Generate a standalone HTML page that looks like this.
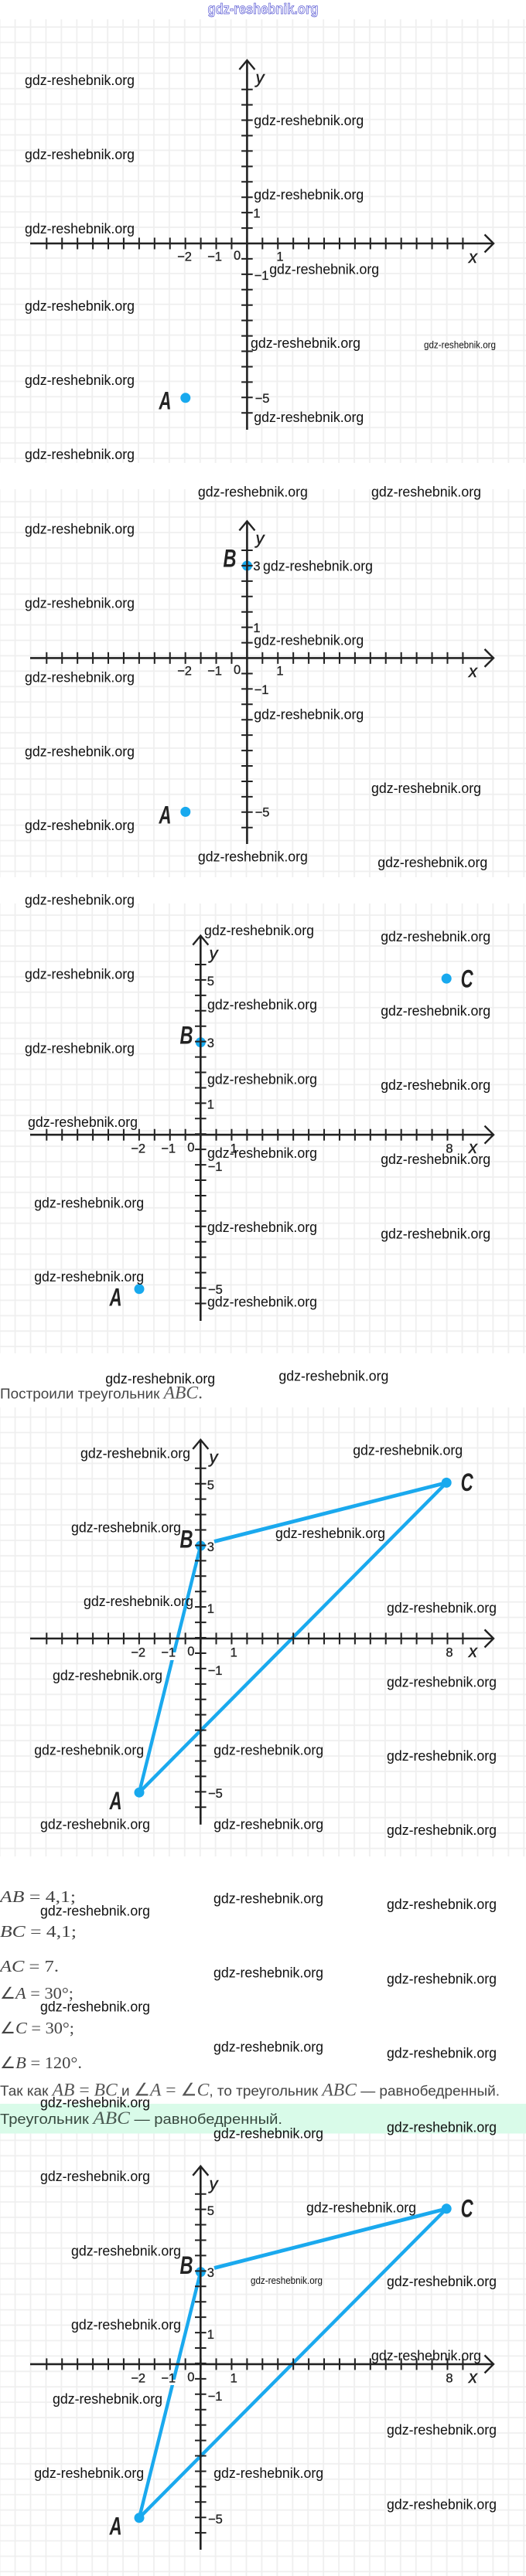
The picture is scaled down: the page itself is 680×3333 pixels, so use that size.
<!DOCTYPE html>
<html lang="ru"><head><meta charset="utf-8"><title>gdz-reshebnik.org</title>
<style>
html,body{margin:0;padding:0;background:#fff}
svg{display:block}
.w{font:18.5px "Liberation Sans",sans-serif;fill:#111}
.n{font:16.5px "Liberation Sans",sans-serif;fill:#222;stroke:#222;stroke-width:.3;text-anchor:middle}
.v{font:italic 22px "Liberation Sans",sans-serif;fill:#222;stroke:#222;stroke-width:.4;text-anchor:middle}
.L{font:italic bold 32px "Liberation Sans",sans-serif;fill:#222}
.m{font:21px "Liberation Serif",serif;fill:#444}
.t{font:18.5px "Liberation Sans",sans-serif;fill:#444}
.tm{font:23px "Liberation Serif",serif;fill:#555}
.i{font-style:italic!important}
</style></head>
<body>
<svg xmlns="http://www.w3.org/2000/svg" width="680" height="3333" viewBox="0 0 680 3333">
<defs>
<pattern id="g1" patternUnits="userSpaceOnUse" x="9.6" y="5.1" width="19.93" height="19.93"><path d="M9.965 0V19.93M0 9.965H19.93" stroke="#efefef" stroke-width="1.8" fill="none"/></pattern>
<pattern id="g2" patternUnits="userSpaceOnUse" x="9.6" y="1.4" width="19.93" height="19.93"><path d="M9.965 0V19.93M0 9.965H19.93" stroke="#efefef" stroke-width="1.8" fill="none"/></pattern>
<pattern id="g3" patternUnits="userSpaceOnUse" x="9.6" y="18.2" width="19.93" height="19.93"><path d="M9.965 0V19.93M0 9.965H19.93" stroke="#efefef" stroke-width="1.8" fill="none"/></pattern>
<pattern id="g4" patternUnits="userSpaceOnUse" x="9.6" y="10" width="19.93" height="19.93"><path d="M9.965 0V19.93M0 9.965H19.93" stroke="#efefef" stroke-width="1.8" fill="none"/></pattern>
<pattern id="g5" patternUnits="userSpaceOnUse" x="9.6" y="9" width="19.93" height="19.93"><path d="M9.965 0V19.93M0 9.965H19.93" stroke="#efefef" stroke-width="1.8" fill="none"/></pattern>
<g id="xa" fill="none" stroke="#222">
<path d="M39 0H638" stroke-width="2.6"/>
<path d="M59.3 0H600" stroke-width="15" stroke-dasharray="2 17.93"/>
<path d="M626.5-11.5L638 0L626.5 11.5" stroke-width="2.4"/>
</g>
</defs>

<!-- title -->
<text x="340" y="18" text-anchor="middle" textLength="143" lengthAdjust="spacingAndGlyphs" style="font:bold 19px 'Liberation Sans',sans-serif;fill:#f0f0fd;stroke:#3535c8;stroke-width:.6">gdz-reshebnik.org</text>

<!-- backgrounds -->
<rect x="0" y="25" width="680" height="574" fill="url(#g1)"/>
<rect x="0" y="633" width="680" height="502" fill="url(#g2)"/>
<rect x="0" y="1169" width="680" height="582" fill="url(#g3)"/>
<rect x="0" y="1821" width="680" height="581" fill="url(#g4)"/>
<rect x="0" y="2722" width="680" height="38.5" fill="#d9fbe9"/>
<rect x="0" y="2760.5" width="680" height="572.5" fill="url(#g5)"/>

<!-- GRAPH 1 -->
<circle cx="239.8" cy="514.8" r="6.5" fill="#18a9ee"/>
<use href="#xa" y="315"/>
<g fill="none" stroke="#222">
<path d="M319.4 78V556" stroke-width="2.6"/>
<path d="M319.4 114.7V535.5" stroke-width="14.6" stroke-dasharray="2 17.93"/>
<path d="M309.4 90L319.4 78L329.4 90" stroke-width="2.4"/>
</g>
<text class="n" x="238.5" y="337.5">−2</text><text class="n" x="277.5" y="337.5">−1</text><text class="n" x="306.6" y="336">0</text><text class="n" x="362" y="337.5">1</text>
<text class="n" x="332" y="281.5">1</text><text class="n" x="338" y="362">−1</text><text class="n" x="339" y="521">−5</text>
<text class="v" x="611.4" y="340">x</text><text class="v" x="336" y="108">y</text>
<text class="L" x="205.5" y="529.5" textLength="16" lengthAdjust="spacingAndGlyphs">A</text>

<!-- GRAPH 2 -->
<circle cx="239.8" cy="1050.4" r="6.5" fill="#18a9ee"/>
<circle cx="319.4" cy="732" r="6.5" fill="#18a9ee"/>
<use href="#xa" y="851.4"/>
<g fill="none" stroke="#222">
<path d="M319.4 674.4V1092" stroke-width="2.6"/>
<path d="M319.4 711V1071.9" stroke-width="14.6" stroke-dasharray="2 17.93"/>
<path d="M309.4 686.4L319.4 674.4L329.4 686.4" stroke-width="2.4"/>
</g>
<text class="n" x="238.5" y="873.5">−2</text><text class="n" x="277.5" y="873.5">−1</text><text class="n" x="306.6" y="872">0</text><text class="n" x="362" y="873.5">1</text>
<text class="n" x="332" y="738">3</text><text class="n" x="332" y="818">1</text><text class="n" x="338" y="898">−1</text><text class="n" x="339" y="1056.5">−5</text>
<text class="v" x="611.4" y="876">x</text><text class="v" x="336" y="704">y</text>
<text class="L" x="205.5" y="1065.5" textLength="16" lengthAdjust="spacingAndGlyphs">A</text>
<text class="L" x="288.5" y="733.5" textLength="17" lengthAdjust="spacingAndGlyphs">B</text>

<!-- GRAPH 3 -->
<circle cx="180" cy="1667.8" r="6.5" fill="#18a9ee"/>
<circle cx="259.3" cy="1348.6" r="6.5" fill="#18a9ee"/>
<circle cx="577.2" cy="1266.1" r="6.5" fill="#18a9ee"/>
<use href="#xa" y="1468.2"/>
<g fill="none" stroke="#222">
<path d="M259.3 1210.6V1709" stroke-width="2.6"/>
<path d="M259.3 1247V1688.6" stroke-width="14.6" stroke-dasharray="2 17.93"/>
<path d="M249.3 1222.6L259.3 1210.6L269.3 1222.6" stroke-width="2.4"/>
</g>
<text class="n" x="178.7" y="1491.5">−2</text><text class="n" x="217.7" y="1491.5">−1</text><text class="n" x="246.8" y="1490">0</text><text class="n" x="302.2" y="1491.5">1</text><text class="n" x="581" y="1491.5">8</text>
<text class="n" x="272.3" y="1275">5</text><text class="n" x="272.3" y="1355">3</text><text class="n" x="272.3" y="1434.5">1</text><text class="n" x="278" y="1515">−1</text><text class="n" x="278.4" y="1674">−5</text>
<text class="v" x="611.4" y="1492">x</text><text class="v" x="276" y="1241">y</text>
<text class="L" x="141.6" y="1689.5" textLength="16" lengthAdjust="spacingAndGlyphs">A</text>
<text class="L" x="232.5" y="1350.5" textLength="17" lengthAdjust="spacingAndGlyphs">B</text>
<text class="L" x="595.6" y="1277.5" textLength="16" lengthAdjust="spacingAndGlyphs">C</text>

<!-- GRAPH 4 -->
<g fill="none" stroke="#1aa9ee" stroke-width="4.4">
<path d="M180 2319.2L259.3 2000"/>
<path d="M180 2319.2L577.2 1918.4"/>
<path d="M277 1994.5L577.2 1918.4" stroke-width="4.8"/>
</g>
<rect x="216" y="2138" width="13" height="10" fill="#fff"/>
<circle cx="180" cy="2319.2" r="6.5" fill="#18a9ee"/>
<circle cx="259.3" cy="2000" r="6.5" fill="#18a9ee"/>
<circle cx="577.2" cy="1918.4" r="6.5" fill="#18a9ee"/>
<use href="#xa" y="2120"/>
<g fill="none" stroke="#222">
<path d="M259.3 1862.9V2360.8" stroke-width="2.6"/>
<path d="M259.3 1898.8V2340.4" stroke-width="14.6" stroke-dasharray="2 17.93"/>
<path d="M249.3 1874.9L259.3 1862.9L269.3 1874.9" stroke-width="2.4"/>
</g>
<text class="n" x="178.7" y="2143.5">−2</text><text class="n" x="217.7" y="2143.5">−1</text><text class="n" x="246.8" y="2142">0</text><text class="n" x="302.2" y="2143.5">1</text><text class="n" x="581" y="2143.5">8</text>
<text class="n" x="272.3" y="1927">5</text><text class="n" x="272.3" y="2007">3</text><text class="n" x="272.3" y="2087">1</text><text class="n" x="278" y="2167">−1</text><text class="n" x="278.4" y="2326">−5</text>
<text class="v" x="611.4" y="2144">x</text><text class="v" x="276" y="1893">y</text>
<text class="L" x="141.6" y="2341" textLength="16" lengthAdjust="spacingAndGlyphs">A</text>
<text class="L" x="232.5" y="2002.5" textLength="17" lengthAdjust="spacingAndGlyphs">B</text>
<text class="L" x="595.6" y="1929" textLength="16" lengthAdjust="spacingAndGlyphs">C</text>

<!-- GRAPH 5 -->
<g fill="none" stroke="#1aa9ee" stroke-width="4.4">
<path d="M180 3257.8L259.3 2939.6"/>
<path d="M180 3257.8L577.2 2857.8"/>
<path d="M277 2934.5L577.2 2857.8" stroke-width="4.8"/>
</g>
<rect x="216" y="3079" width="13" height="7" fill="#fff"/>
<circle cx="180" cy="3257.8" r="6.5" fill="#18a9ee"/>
<circle cx="259.3" cy="2939.6" r="6.5" fill="#18a9ee"/>
<circle cx="577.2" cy="2857.8" r="6.5" fill="#18a9ee"/>
<use href="#xa" y="3058.9"/>
<g fill="none" stroke="#222">
<path d="M259.3 2802.8V3299" stroke-width="2.6"/>
<path d="M259.3 2837.7V3279.3" stroke-width="14.6" stroke-dasharray="2 17.93"/>
<path d="M249.3 2814.8L259.3 2802.8L269.3 2814.8" stroke-width="2.4"/>
</g>
<text class="n" x="178.7" y="3082.5">−2</text><text class="n" x="217.7" y="3082.5">−1</text><text class="n" x="246.8" y="3081">0</text><text class="n" x="302.2" y="3082.5">1</text><text class="n" x="581" y="3082.5">8</text>
<text class="n" x="272.3" y="2866">5</text><text class="n" x="272.3" y="2946">3</text><text class="n" x="272.3" y="3026">1</text><text class="n" x="278" y="3106">−1</text><text class="n" x="278.4" y="3265">−5</text>
<text class="v" x="611.4" y="3083">x</text><text class="v" x="276" y="2833">y</text>
<text class="L" x="141.6" y="3279.5" textLength="16" lengthAdjust="spacingAndGlyphs">A</text>
<text class="L" x="232.5" y="2942" textLength="17" lengthAdjust="spacingAndGlyphs">B</text>
<text class="L" x="595.6" y="2868.5" textLength="16" lengthAdjust="spacingAndGlyphs">C</text>

<!-- text -->
<text x="0" y="1809.5" textLength="262" lengthAdjust="spacingAndGlyphs"><tspan class="t">Построили треугольник </tspan><tspan class="tm i">ABC</tspan><tspan class="tm">.</tspan></text>
<text class="m" x="0" y="2461" textLength="98" lengthAdjust="spacingAndGlyphs"><tspan class="i">AB</tspan> = 4,1;</text>
<text class="m" x="0" y="2506" textLength="99" lengthAdjust="spacingAndGlyphs"><tspan class="i">BC</tspan> = 4,1;</text>
<text class="m" x="0" y="2551" textLength="76" lengthAdjust="spacingAndGlyphs"><tspan class="i">AC</tspan> = 7.</text>
<text class="m" x="0" y="2586" textLength="95" lengthAdjust="spacingAndGlyphs">∠<tspan class="i">A</tspan> = 30°;</text>
<text class="m" x="0" y="2631" textLength="96" lengthAdjust="spacingAndGlyphs">∠<tspan class="i">C</tspan> = 30°;</text>
<text class="m" x="0" y="2676" textLength="106" lengthAdjust="spacingAndGlyphs">∠<tspan class="i">B</tspan> = 120°.</text>
<text x="0" y="2711.5" textLength="646" lengthAdjust="spacingAndGlyphs"><tspan class="t">Так как </tspan><tspan class="tm i">AB</tspan><tspan class="tm"> = </tspan><tspan class="tm i">BC</tspan><tspan class="t"> и </tspan><tspan class="tm">∠</tspan><tspan class="tm i">A</tspan><tspan class="tm"> = ∠</tspan><tspan class="tm i">C</tspan><tspan class="t">, то треугольник </tspan><tspan class="tm i">ABC</tspan><tspan class="t"> — равнобедренный.</tspan></text>
<text x="0" y="2748" textLength="365" lengthAdjust="spacingAndGlyphs"><tspan class="t" style="fill:#37493f">Треугольник </tspan><tspan class="tm i" style="fill:#4a5a52">ABC</tspan><tspan class="t" style="fill:#37493f"> — равнобедренный.</tspan></text>

<!-- watermarks -->
<g>
<text class="w" x="32" y="110" textLength="142" lengthAdjust="spacingAndGlyphs">gdz-reshebnik.org</text>
<text class="w" x="328.3" y="162.2" textLength="142" lengthAdjust="spacingAndGlyphs">gdz-reshebnik.org</text>
<text class="w" x="32" y="206" textLength="142" lengthAdjust="spacingAndGlyphs">gdz-reshebnik.org</text>
<text class="w" x="328.3" y="258" textLength="142" lengthAdjust="spacingAndGlyphs">gdz-reshebnik.org</text>
<text class="w" x="32" y="302.2" textLength="142" lengthAdjust="spacingAndGlyphs">gdz-reshebnik.org</text>
<text class="w" x="348.2" y="354.4" textLength="142" lengthAdjust="spacingAndGlyphs">gdz-reshebnik.org</text>
<text class="w" x="32" y="401.8" textLength="142" lengthAdjust="spacingAndGlyphs">gdz-reshebnik.org</text>
<text class="w" x="324" y="450" textLength="142" lengthAdjust="spacingAndGlyphs">gdz-reshebnik.org</text>
<text x="548" y="450.5" textLength="93" lengthAdjust="spacingAndGlyphs" style="font:12.5px 'Liberation Sans',sans-serif;fill:#111">gdz-reshebnik.org</text>
<text class="w" x="32" y="497.9" textLength="142" lengthAdjust="spacingAndGlyphs">gdz-reshebnik.org</text>
<text class="w" x="328.3" y="546.1" textLength="142" lengthAdjust="spacingAndGlyphs">gdz-reshebnik.org</text>
<text class="w" x="32" y="594" textLength="142" lengthAdjust="spacingAndGlyphs">gdz-reshebnik.org</text>

<text class="w" x="255.9" y="642.5" textLength="142" lengthAdjust="spacingAndGlyphs">gdz-reshebnik.org</text>
<text class="w" x="480" y="642.5" textLength="142" lengthAdjust="spacingAndGlyphs">gdz-reshebnik.org</text>
<text class="w" x="32" y="690.4" textLength="142" lengthAdjust="spacingAndGlyphs">gdz-reshebnik.org</text>
<text class="w" x="340" y="738.6" textLength="142" lengthAdjust="spacingAndGlyphs">gdz-reshebnik.org</text>
<text class="w" x="32" y="786.5" textLength="142" lengthAdjust="spacingAndGlyphs">gdz-reshebnik.org</text>
<text class="w" x="328.3" y="834.3" textLength="142" lengthAdjust="spacingAndGlyphs">gdz-reshebnik.org</text>
<text class="w" x="32" y="882.5" textLength="142" lengthAdjust="spacingAndGlyphs">gdz-reshebnik.org</text>
<text class="w" x="328.3" y="930.4" textLength="142" lengthAdjust="spacingAndGlyphs">gdz-reshebnik.org</text>
<text class="w" x="32" y="978.3" textLength="142" lengthAdjust="spacingAndGlyphs">gdz-reshebnik.org</text>
<text class="w" x="480" y="1026.1" textLength="142" lengthAdjust="spacingAndGlyphs">gdz-reshebnik.org</text>
<text class="w" x="32" y="1074" textLength="142" lengthAdjust="spacingAndGlyphs">gdz-reshebnik.org</text>
<text class="w" x="255.9" y="1114.3" textLength="142" lengthAdjust="spacingAndGlyphs">gdz-reshebnik.org</text>
<text class="w" x="488.3" y="1122.2" textLength="142" lengthAdjust="spacingAndGlyphs">gdz-reshebnik.org</text>
<text class="w" x="32" y="1170.5" textLength="142" lengthAdjust="spacingAndGlyphs">gdz-reshebnik.org</text>

<text class="w" x="264" y="1210" textLength="142" lengthAdjust="spacingAndGlyphs">gdz-reshebnik.org</text>
<text class="w" x="492.2" y="1218.2" textLength="142" lengthAdjust="spacingAndGlyphs">gdz-reshebnik.org</text>
<text class="w" x="32" y="1266.4" textLength="142" lengthAdjust="spacingAndGlyphs">gdz-reshebnik.org</text>
<text class="w" x="268" y="1306" textLength="142" lengthAdjust="spacingAndGlyphs">gdz-reshebnik.org</text>
<text class="w" x="492.2" y="1314.2" textLength="142" lengthAdjust="spacingAndGlyphs">gdz-reshebnik.org</text>
<text class="w" x="32" y="1362.3" textLength="142" lengthAdjust="spacingAndGlyphs">gdz-reshebnik.org</text>
<text class="w" x="268" y="1402.3" textLength="142" lengthAdjust="spacingAndGlyphs">gdz-reshebnik.org</text>
<text class="w" x="492.2" y="1410" textLength="142" lengthAdjust="spacingAndGlyphs">gdz-reshebnik.org</text>
<text class="w" x="36" y="1458.2" textLength="142" lengthAdjust="spacingAndGlyphs">gdz-reshebnik.org</text>
<text class="w" x="268" y="1498.2" textLength="142" lengthAdjust="spacingAndGlyphs">gdz-reshebnik.org</text>
<text class="w" x="492.2" y="1506" textLength="142" lengthAdjust="spacingAndGlyphs">gdz-reshebnik.org</text>
<text class="w" x="44.2" y="1562.3" textLength="142" lengthAdjust="spacingAndGlyphs">gdz-reshebnik.org</text>
<text class="w" x="268" y="1594.2" textLength="142" lengthAdjust="spacingAndGlyphs">gdz-reshebnik.org</text>
<text class="w" x="492.2" y="1602.3" textLength="142" lengthAdjust="spacingAndGlyphs">gdz-reshebnik.org</text>
<text class="w" x="44.2" y="1658.2" textLength="142" lengthAdjust="spacingAndGlyphs">gdz-reshebnik.org</text>
<text class="w" x="268" y="1690.5" textLength="142" lengthAdjust="spacingAndGlyphs">gdz-reshebnik.org</text>
<text class="w" x="136.2" y="1790" textLength="142" lengthAdjust="spacingAndGlyphs">gdz-reshebnik.org</text>
<text class="w" x="360.4" y="1786.4" textLength="142" lengthAdjust="spacingAndGlyphs">gdz-reshebnik.org</text>

<text class="w" x="104" y="1886.4" textLength="142" lengthAdjust="spacingAndGlyphs">gdz-reshebnik.org</text>
<text class="w" x="456.2" y="1882.3" textLength="142" lengthAdjust="spacingAndGlyphs">gdz-reshebnik.org</text>
<text class="w" x="92" y="1982.3" textLength="142" lengthAdjust="spacingAndGlyphs">gdz-reshebnik.org</text>
<text class="w" x="356" y="1990" textLength="142" lengthAdjust="spacingAndGlyphs">gdz-reshebnik.org</text>
<text class="w" x="108" y="2078.2" textLength="142" lengthAdjust="spacingAndGlyphs">gdz-reshebnik.org</text>
<text class="w" x="500" y="2086.4" textLength="142" lengthAdjust="spacingAndGlyphs">gdz-reshebnik.org</text>
<text class="w" x="68" y="2174.2" textLength="142" lengthAdjust="spacingAndGlyphs">gdz-reshebnik.org</text>
<text class="w" x="500" y="2182.3" textLength="142" lengthAdjust="spacingAndGlyphs">gdz-reshebnik.org</text>
<text class="w" x="44.2" y="2270.5" textLength="142" lengthAdjust="spacingAndGlyphs">gdz-reshebnik.org</text>
<text class="w" x="276.2" y="2270.5" textLength="142" lengthAdjust="spacingAndGlyphs">gdz-reshebnik.org</text>
<text class="w" x="500" y="2278.2" textLength="142" lengthAdjust="spacingAndGlyphs">gdz-reshebnik.org</text>
<text class="w" x="52" y="2366.4" textLength="142" lengthAdjust="spacingAndGlyphs">gdz-reshebnik.org</text>
<text class="w" x="276.2" y="2366.4" textLength="142" lengthAdjust="spacingAndGlyphs">gdz-reshebnik.org</text>
<text class="w" x="500" y="2374.2" textLength="142" lengthAdjust="spacingAndGlyphs">gdz-reshebnik.org</text>

<text class="w" x="276" y="2462.7" textLength="142" lengthAdjust="spacingAndGlyphs">gdz-reshebnik.org</text>
<text class="w" x="500" y="2470" textLength="142" lengthAdjust="spacingAndGlyphs">gdz-reshebnik.org</text>
<text class="w" x="52" y="2478.7" textLength="142" lengthAdjust="spacingAndGlyphs">gdz-reshebnik.org</text>
<text class="w" x="276" y="2558.3" textLength="142" lengthAdjust="spacingAndGlyphs">gdz-reshebnik.org</text>
<text class="w" x="500" y="2566.3" textLength="142" lengthAdjust="spacingAndGlyphs">gdz-reshebnik.org</text>
<text class="w" x="52" y="2602.7" textLength="142" lengthAdjust="spacingAndGlyphs">gdz-reshebnik.org</text>
<text class="w" x="276" y="2654.3" textLength="142" lengthAdjust="spacingAndGlyphs">gdz-reshebnik.org</text>
<text class="w" x="500" y="2662.3" textLength="142" lengthAdjust="spacingAndGlyphs">gdz-reshebnik.org</text>
<text class="w" x="52" y="2726.3" textLength="142" lengthAdjust="spacingAndGlyphs">gdz-reshebnik.org</text>
<text class="w" x="500" y="2758.3" textLength="142" lengthAdjust="spacingAndGlyphs">gdz-reshebnik.org</text>
<text class="w" x="276" y="2766.3" textLength="142" lengthAdjust="spacingAndGlyphs">gdz-reshebnik.org</text>

<text class="w" x="52" y="2822.2" textLength="142" lengthAdjust="spacingAndGlyphs">gdz-reshebnik.org</text>
<text class="w" x="396" y="2862.3" textLength="142" lengthAdjust="spacingAndGlyphs">gdz-reshebnik.org</text>
<text class="w" x="92" y="2918.5" textLength="142" lengthAdjust="spacingAndGlyphs">gdz-reshebnik.org</text>
<text class="w" x="500" y="2958.2" textLength="142" lengthAdjust="spacingAndGlyphs">gdz-reshebnik.org</text>
<text x="324" y="2955" textLength="93" lengthAdjust="spacingAndGlyphs" style="font:12.5px 'Liberation Sans',sans-serif;fill:#111">gdz-reshebnik.org</text>
<text class="w" x="92" y="3014" textLength="142" lengthAdjust="spacingAndGlyphs">gdz-reshebnik.org</text>
<text class="w" x="480" y="3054.1" textLength="142" lengthAdjust="spacingAndGlyphs">gdz-reshebnik.org</text>
<text class="w" x="68" y="3109.9" textLength="142" lengthAdjust="spacingAndGlyphs">gdz-reshebnik.org</text>
<text class="w" x="500" y="3150" textLength="142" lengthAdjust="spacingAndGlyphs">gdz-reshebnik.org</text>
<text class="w" x="44.2" y="3205.8" textLength="142" lengthAdjust="spacingAndGlyphs">gdz-reshebnik.org</text>
<text class="w" x="276.2" y="3205.8" textLength="142" lengthAdjust="spacingAndGlyphs">gdz-reshebnik.org</text>
<text class="w" x="500" y="3246.7" textLength="142" lengthAdjust="spacingAndGlyphs">gdz-reshebnik.org</text>
</g>
</svg>
</body></html>
